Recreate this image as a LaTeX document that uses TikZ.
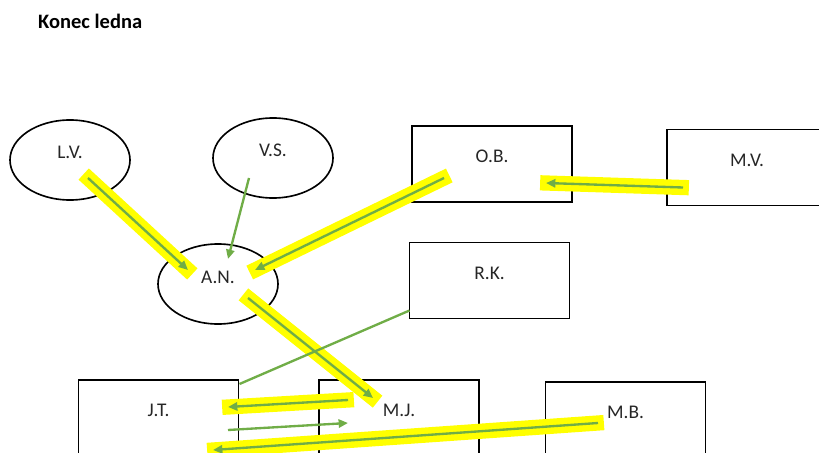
\documentclass[tikz,border=0pt]{standalone}
\usepackage{fontspec}
\setmainfont{Carlito}
\usetikzlibrary{arrows.meta, shapes.geometric}
\definecolor{myGreen}{HTML}{70AD47}
\definecolor{myYellow}{HTML}{FFFF00}
\definecolor{myText}{HTML}{262626}

\begin{document}
\begin{tikzpicture}[x = 0.03cm, y = -0.03cm,
		oval/.style = {draw, ellipse, line width = 1.4pt, minimum width = 3.6cm, minimum height = 2.4cm, inner sep = 0pt},
		box/.style = {draw, rectangle, line width = 1.4pt, minimum width = 4.8cm, minimum height = 2.28cm, inner sep = 0pt},
		txt/.style = {text = myText, font = \fontsize{16.5}{18}\selectfont, inner sep = 0pt},
		arr/.style = {myGreen, line width = 2pt, -{Triangle[length = 8pt, width = 7pt]}},
		hl/.style = {myYellow, line width = 13pt, shorten <= -5pt, shorten >= -5pt}]
		\useasboundingbox (0, 0) rectangle (819, 453);
		\clip (0, 0) rectangle (819, 453);
		%%%%%%%%%%%%%
		\node [anchor = west, font = \bfseries\fontsize{17.5}{19}\selectfont, inner sep = 0pt] (title) at (38, 21) {Konec ledna};
		%%%%%%%%%%%%%
		\node [oval] (lv) at (70, 160) {};
		\node [oval] (vs) at (273, 158) {};
		\node [oval] (an) at (218, 284) {};
		\node [box] (ob) at (492, 164) {};
		\node [box] (mv) at (747, 167.5) {};
		\node [box] (rk) at (489.5, 280.5) {};
		\node [box] (jt) at (158.5, 418) {};
		\node [box] (mj) at (399, 418) {};
		\node [box] (mb) at (625.5, 420) {};
		%%%%%%%%%%%%%
		\node [txt] (lvT) at ([yshift = -0.99cm] lv.north) {L.V.};
		\node [txt] (vsT) at ([yshift = -0.99cm] vs.north) {V.S.};
		\node [txt] (anT) at ([yshift = -1.02cm] an.north) {A.N.};
		\node [txt] (obT) at ([yshift = -0.93cm] ob.north) {O.B.};
		\node [txt] (mvT) at ([yshift = -0.96cm] mv.north) {M.V.};
		\node [txt] (rkT) at ([yshift = -0.96cm] rk.north) {R.K.};
		\node [txt] (jtT) at ([yshift = -0.93cm] jt.north) {J.T.};
		\node [txt] (mjT) at ([yshift = -0.93cm] mj.north) {M.J.};
		\node [txt] (mbT) at ([yshift = -0.93cm] mb.north) {M.B.};
		%%%%%%%%%%%%%
		\draw [hl] ([shift = {(18, 18)}] lv.center) to ([shift = {(-30, -14)}] an.center);
		\draw [hl] ([shift = {(-48, 14)}] ob.center) to ([shift = {(37, -14)}] an.center);
		\draw [hl] ([shift = {(-64, 20)}] mv.center) to ([shift = {(54, 19)}] ob.center);
		\draw [hl] ([shift = {(30, 14)}] an.center) to ([shift = {(-26, -20)}] mj.center);
		\draw [hl] ([shift = {(-51, -18)}] mj.center) to ([shift = {(69.5, -11)}] jt.center);
		\draw [hl] ([shift = {(-27.5, 3)}] mb.center) to ([shift = {(54.5, 32)}] jt.center);
		%%%%%%%%%%%%%
		\draw [arr] ([shift = {(18, 18)}] lv.center) to ([shift = {(-30, -14)}] an.center);
		\draw [arr] ([shift = {(-24, 20)}] vs.center) to ([shift = {(10, -25)}] an.center);
		\draw [arr] ([shift = {(-48, 14)}] ob.center) to ([shift = {(37, -14)}] an.center);
		\draw [arr] ([shift = {(-64, 20)}] mv.center) to ([shift = {(54, 19)}] ob.center);
		\draw [myGreen, line width = 2pt] ([shift = {(-80, 30)}] rk.center) to ([shift = {(81, -34)}] jt.center);
		\draw [arr] ([shift = {(30, 14)}] an.center) to ([shift = {(-26, -20)}] mj.center);
		\draw [arr] ([shift = {(-51, -18)}] mj.center) to ([shift = {(69.5, -11)}] jt.center);
		\draw [arr] ([shift = {(69.5, 12)}] jt.center) to ([shift = {(-51, 5)}] mj.center);
		\draw [arr] ([shift = {(-27.5, 3)}] mb.center) to ([shift = {(54.5, 32)}] jt.center);
\end{tikzpicture}
\end{document}
